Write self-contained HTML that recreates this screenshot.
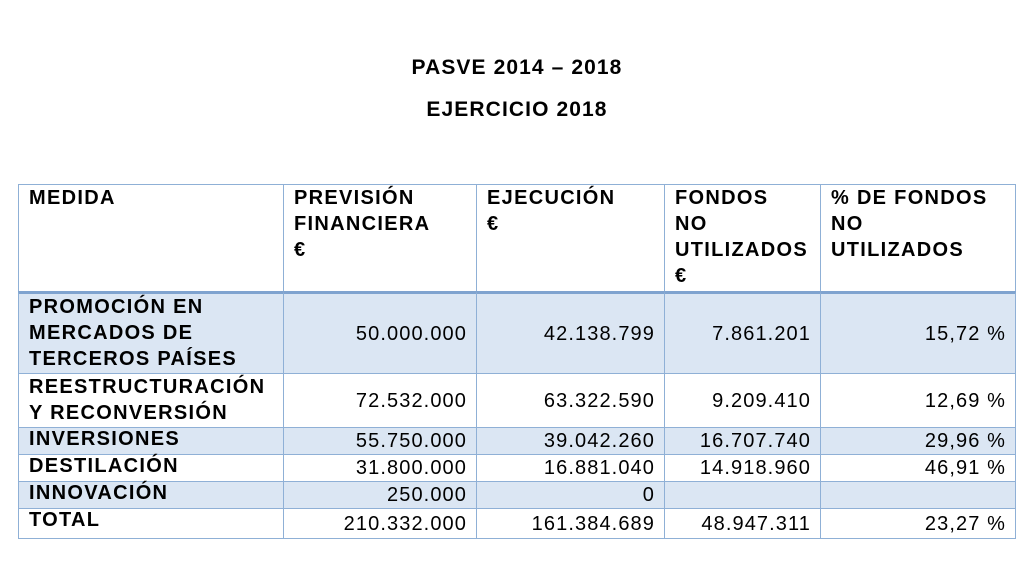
<!DOCTYPE html>
<html><head><meta charset="utf-8"><style>
body{margin:0;width:1024px;height:569px;background:#fff;position:relative;overflow:hidden;font-family:"Liberation Sans",Arial,sans-serif;color:#000}
.t{position:absolute;left:0;width:1034px;text-align:center;font-weight:bold;font-size:21px;letter-spacing:1.1px}
.c{position:absolute;box-sizing:border-box;border:1px solid #8fb0d6;font-size:20px;line-height:26px}
.h{font-weight:bold;padding:0 0 0 10px;letter-spacing:1.3px}
.n{display:flex;align-items:center;justify-content:flex-end;padding-right:9px;letter-spacing:1.1px}
.b{background:#dbe6f3}
</style></head><body>
<div class="t" style="top:56px">PASVE 2014 – 2018</div>
<div class="t" style="top:98px">EJERCICIO 2018</div>
<div id="tbl"></div>
<script>
const cols=[18,283,476,664,820,1015];
const rows=[184,291,373,427,454,481,508,538];
const header=["MEDIDA","PREVISIÓN<br>FINANCIERA<br>€","EJECUCIÓN<br>€","FONDOS<br>NO<br>UTILIZADOS<br>€","% DE FONDOS<br>NO<br>UTILIZADOS"];
const labels=["PROMOCIÓN EN<br>MERCADOS DE<br>TERCEROS PAÍSES","REESTRUCTURACIÓN<br>Y RECONVERSIÓN","INVERSIONES","DESTILACIÓN","INNOVACIÓN","TOTAL"];
const prevision=["50.000.000","72.532.000","55.750.000","31.800.000","250.000","210.332.000"];
const ejecucion=["42.138.799","63.322.590","39.042.260","16.881.040","0","161.384.689"];
const fondos=["7.861.201","9.209.410","16.707.740","14.918.960","","48.947.311"];
const pct=["15,72 %","12,69 %","29,96 %","46,91 %","","23,27 %"];
const tbl=document.getElementById('tbl');
function cell(r,c,html,cls,name){
 const d=document.createElement('div');
 d.className='c '+cls;
 d.style.left=cols[c]+'px';d.style.width=(cols[c+1]-cols[c]+1)+'px';
 d.style.top=rows[r]+'px';d.style.height=(rows[r+1]-rows[r]+1)+'px';
 if(r===1)d.style.borderTop='3px solid #7fa3cf';
 d.innerHTML=html;
 
 
 tbl.appendChild(d);
}
header.forEach((h,c)=>cell(0,c,h,'h','header-cell'));
labels.forEach((l,i)=>{
 const bg=(i%2===0&&i<5)?' b':'';
 const r=i+1;
 cell(r,0,l,'h'+bg,'row-label');
 cell(r,1,prevision[i],'n'+bg,'prevision-value');
 cell(r,2,ejecucion[i],'n'+bg,'ejecucion-value');
 cell(r,3,fondos[i],'n'+bg,'fondos-value');
 cell(r,4,pct[i],'n'+bg,'percent-value');
});
document.querySelectorAll('.h').forEach(e=>{if(parseInt(e.style.height)<32)e.style.lineHeight='22px';});
</script>
</body></html>
